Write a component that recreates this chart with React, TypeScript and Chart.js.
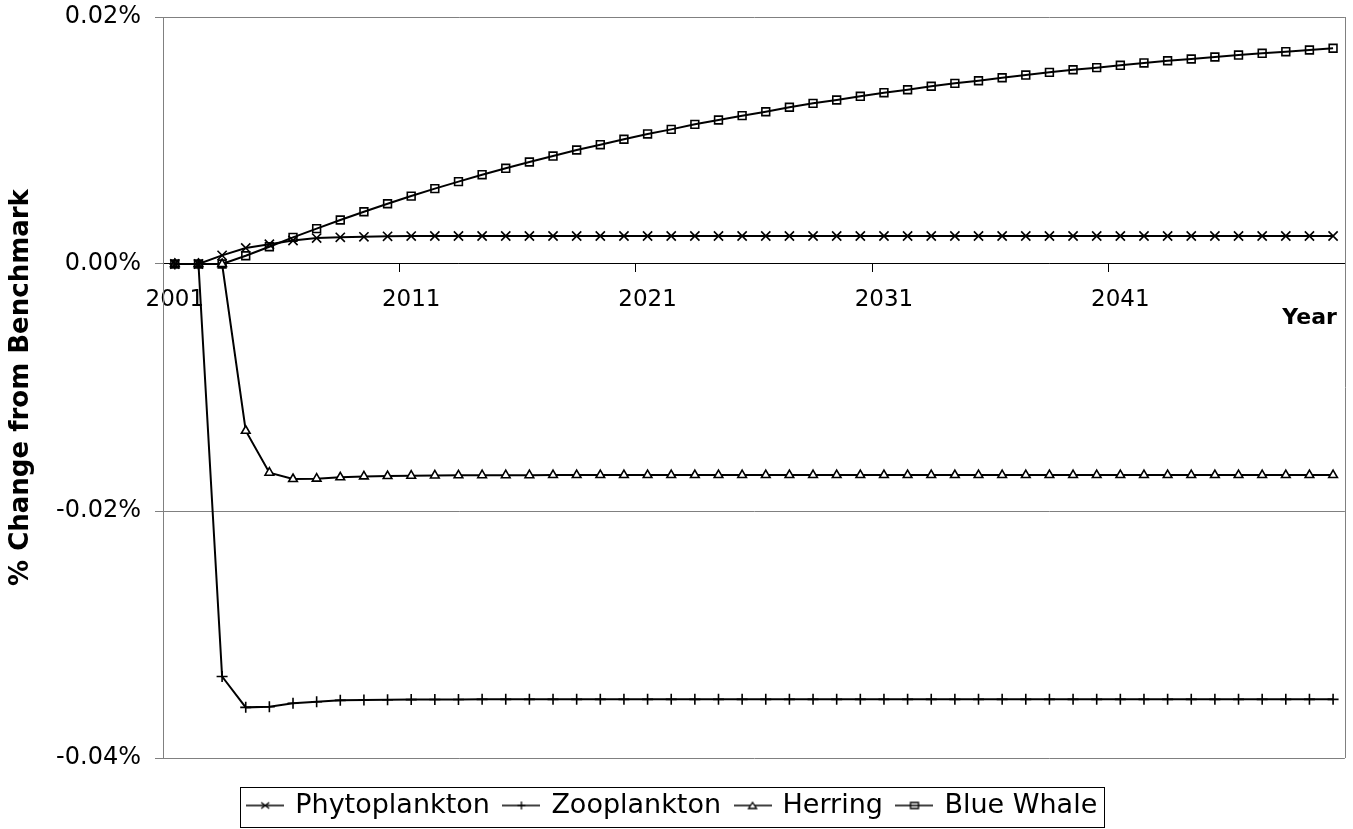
import React, { useEffect, useRef } from 'react';
import { Chart, registerables } from 'chart.js';

Chart.register(...registerables);

const FONT = "'DejaVu Sans', 'Liberation Sans', sans-serif";

const years = [
  '2001', '2002', '2003', '2004', '2005', '2006', '2007', '2008', '2009', '2010',
  '2011', '2012', '2013', '2014', '2015', '2016', '2017', '2018', '2019', '2020',
  '2021', '2022', '2023', '2024', '2025', '2026', '2027', '2028', '2029', '2030',
  '2031', '2032', '2033', '2034', '2035', '2036', '2037', '2038', '2039', '2040',
  '2041', '2042', '2043', '2044', '2045', '2046', '2047', '2048', '2049', '2050',
];

// values in percent (0.01 => 0.01%)
const phytoplankton = [
  0, 0, 0.0007, 0.0013, 0.0016, 0.0019, 0.0021, 0.00216, 0.0022, 0.00224,
  0.00226, 0.00227, 0.00227, 0.00227, 0.00227, 0.00227, 0.00227, 0.00227, 0.00227, 0.00227,
  0.00227, 0.00227, 0.00227, 0.00227, 0.00227, 0.00227, 0.00227, 0.00227, 0.00227, 0.00227,
  0.00227, 0.00227, 0.00227, 0.00227, 0.00227, 0.00227, 0.00227, 0.00227, 0.00227, 0.00227,
  0.00227, 0.00227, 0.00227, 0.00227, 0.00227, 0.00227, 0.00227, 0.00227, 0.00227, 0.00227,
];

const zooplankton = [
  0, 0, -0.0334, -0.0359, -0.03585, -0.03557, -0.03544, -0.03533, -0.0353, -0.03528,
  -0.03527, -0.03526, -0.03526, -0.03525, -0.03525, -0.03525, -0.03525, -0.03525, -0.03525, -0.03525,
  -0.03525, -0.03525, -0.03525, -0.03525, -0.03525, -0.03525, -0.03525, -0.03525, -0.03525, -0.03525,
  -0.03525, -0.03525, -0.03525, -0.03525, -0.03525, -0.03525, -0.03525, -0.03525, -0.03525, -0.03525,
  -0.03525, -0.03525, -0.03525, -0.03525, -0.03525, -0.03525, -0.03525, -0.03525, -0.03525, -0.03525,
];

const herring = [
  0, 0, 0, -0.0135, -0.0169, -0.01741, -0.01738, -0.01727, -0.0172, -0.01717,
  -0.01714, -0.01712, -0.01711, -0.0171, -0.0171, -0.0171, -0.01709, -0.01709, -0.01709, -0.01709,
  -0.01709, -0.01709, -0.01709, -0.01709, -0.01709, -0.01709, -0.01709, -0.01709, -0.01709, -0.01709,
  -0.01709, -0.01709, -0.01709, -0.01709, -0.01709, -0.01709, -0.01709, -0.01709, -0.01709, -0.01709,
  -0.01709, -0.01709, -0.01709, -0.01709, -0.01709, -0.01709, -0.01709, -0.01709, -0.01709, -0.01709,
];

const blueWhale = [
  0, 0, 0, 0.00067, 0.0014, 0.00216, 0.00286, 0.00356, 0.00423, 0.00488,
  0.0055, 0.0061, 0.00667, 0.00723, 0.00775, 0.00826, 0.00874, 0.00923, 0.00966, 0.0101,
  0.01053, 0.0109, 0.01131, 0.01166, 0.01201, 0.01233, 0.01269, 0.01301, 0.01328, 0.01358,
  0.01387, 0.01411, 0.01439, 0.01463, 0.01484, 0.01508, 0.0153, 0.01552, 0.01573, 0.0159,
  0.01609, 0.01628, 0.01646, 0.0166, 0.01676, 0.01692, 0.01706, 0.01719, 0.01733, 0.01747,
];

const seriesNames = ['Phytoplankton', 'Zooplankton', 'Herring', 'Blue Whale'];
const markerStyles = ['crossRot', 'cross', 'triangle', 'rect'];
const markerRadii = [6.5, 5.5, 5, 5.5];

const yTicks = { min: -0.04, max: 0.02, step: 0.02 };

function makeSample(kind: string): HTMLCanvasElement {
  const c = document.createElement('canvas');
  c.width = 38;
  c.height = 14;
  const g = c.getContext('2d')!;
  g.strokeStyle = '#000';
  g.lineWidth = 1.4;
  g.beginPath();
  g.moveTo(0, 7);
  g.lineTo(38, 7);
  g.stroke();
  const cx = 19;
  const cy = 7;
  g.lineWidth = 1.3;
  g.beginPath();
  if (kind === 'crossRot') {
    g.moveTo(cx - 4, cy - 3);
    g.lineTo(cx + 4, cy + 3);
    g.moveTo(cx - 4, cy + 3);
    g.lineTo(cx + 4, cy - 3);
    g.stroke();
  } else if (kind === 'cross') {
    g.moveTo(cx - 4, cy);
    g.lineTo(cx + 4, cy);
    g.moveTo(cx, cy - 4);
    g.lineTo(cx, cy + 4);
    g.stroke();
  } else if (kind === 'triangle') {
    g.moveTo(cx - 4, cy + 3);
    g.lineTo(cx + 4, cy + 3);
    g.lineTo(cx, cy - 3);
    g.closePath();
    g.fillStyle = '#fff';
    g.fill();
    g.stroke();
  } else {
    g.rect(cx - 4, cy - 3, 8, 6);
    g.stroke();
  }
  return c;
}

const framePlugin = {
  id: 'frameAndExtras',
  beforeDatasetsDraw(chart: any) {
    const { ctx, chartArea: a } = chart;
    ctx.save();
    ctx.strokeStyle = '#808080';
    ctx.lineWidth = 1;
    ctx.beginPath();
    ctx.moveTo(Math.round(a.right) + 0.5, a.top);
    ctx.lineTo(Math.round(a.right) + 0.5, a.bottom);
    ctx.stroke();
    ctx.restore();
  },
  afterDraw(chart: any) {
    const { ctx, chartArea: a } = chart;
    const y0 = chart.scales.y.getPixelForValue(0);
    ctx.save();
    ctx.fillStyle = '#000';
    ctx.font = `bold 22px ${FONT}`;
    ctx.textAlign = 'right';
    ctx.textBaseline = 'alphabetic';
    ctx.fillText('Year', a.right - 8, y0 + 60);
    // legend border
    const hb = chart.legend && chart.legend.legendHitBoxes;
    if (hb && hb.length) {
      let l = Infinity;
      let r = -Infinity;
      let t = Infinity;
      let b = -Infinity;
      hb.forEach((h: any) => {
        l = Math.min(l, h.left);
        r = Math.max(r, h.left + h.width);
        t = Math.min(t, h.top);
        b = Math.max(b, h.top + h.height);
      });
      ctx.strokeStyle = '#000';
      ctx.lineWidth = 1;
      ctx.strokeRect(Math.round(l - 9) + 0.5, Math.round(t - 5) + 0.5, Math.round(r - l + 15), Math.round(b - t + 13));
    }
    ctx.restore();
  },
};

export default function App() {
  const canvasRef = useRef<HTMLCanvasElement | null>(null);

  useEffect(() => {
    if (!canvasRef.current) return;
    const series = [phytoplankton, zooplankton, herring, blueWhale];
    const samples = markerStyles.map((m) => makeSample(m));
    const chart = new Chart(canvasRef.current, {
      type: 'line',
      data: {
        labels: years,
        datasets: series.map((d, i) => ({
          label: seriesNames[i],
          data: d,
          borderColor: '#000',
          borderWidth: 2,
          pointStyle: markerStyles[i] as any,
          pointRadius: markerRadii[i],
          pointBorderColor: '#000',
          pointBackgroundColor: i === 2 ? '#fff' : 'rgba(0,0,0,0)',
          pointBorderWidth: 1.6,
          tension: 0,
          fill: false,
        })),
      },
      options: {
        animation: false,
        responsive: true,
        maintainAspectRatio: false,
        layout: { padding: { top: 17, right: 7, left: 0, bottom: 0 } },
        plugins: {
          tooltip: { enabled: false },
          title: { display: false },
          legend: {
            position: 'bottom',
            title: { display: true, text: '', font: { size: 1, lineHeight: 1 }, padding: { top: 18, bottom: 0 } },
            labels: {
              usePointStyle: true,
              pointStyleWidth: 33,
              color: '#000',
              padding: 15,
              font: { family: FONT, size: 27 },
              generateLabels: (ch: any) =>
                ch.data.datasets.map((ds: any, i: number) => ({
                  text: ds.label,
                  pointStyle: samples[i],
                  fillStyle: 'rgba(0,0,0,0)',
                  strokeStyle: 'rgba(0,0,0,0)',
                  lineWidth: 0,
                  hidden: false,
                  datasetIndex: i,
                  fontColor: '#000',
                })),
            },
          },
        },
        scales: {
          x: {
            type: 'category',
            position: { y: 0 } as any,
            offset: true,
            grid: {
              display: true,
              offset: true,
              drawOnChartArea: false,
              drawTicks: true,
              tickLength: 8,
              tickColor: (c: any) => (c.index % 10 === 0 ? '#000' : 'rgba(0,0,0,0)'),
            },
            border: { display: true, color: '#000', width: 1 },
            ticks: {
              autoSkip: false,
              maxRotation: 0,
              minRotation: 0,
              padding: 14,
              color: '#000',
              font: { family: FONT, size: 23 },
              callback: (_v: any, idx: number) => (idx % 10 === 0 ? years[idx] : ''),
            },
          },
          y: {
            type: 'linear',
            min: yTicks.min,
            max: yTicks.max,
            afterFit: (s: any) => {
              s.width = 163;
              s.paddingTop = 0;
              s.paddingBottom = 0;
            },
            grid: {
              color: '#808080',
              lineWidth: 1,
              tickLength: 8,
              tickColor: '#808080',
            },
            border: { display: true, color: '#808080', width: 1 },
            ticks: {
              stepSize: yTicks.step,
              padding: 14,
              color: '#000',
              font: { family: FONT, size: 24 },
              callback: (v: any) => {
                const n = Math.abs(Number(v)) < 1e-9 ? 0 : Number(v);
                return `${n.toFixed(2)}%`;
              },
            },
            title: {
              display: true,
              text: '% Change from Benchmark',
              color: '#000',
              font: { family: FONT, size: 26, weight: 'bold' },
              padding: { top: 6, bottom: 0 },
            },
          },
        },
      },
      plugins: [framePlugin],
    });
    return () => chart.destroy();
  }, []);

  return (
    <div style={{ position: 'absolute', left: 0, top: 0, width: 1353, height: 829, background: '#fff' }}>
      <canvas ref={canvasRef} />
    </div>
  );
}
